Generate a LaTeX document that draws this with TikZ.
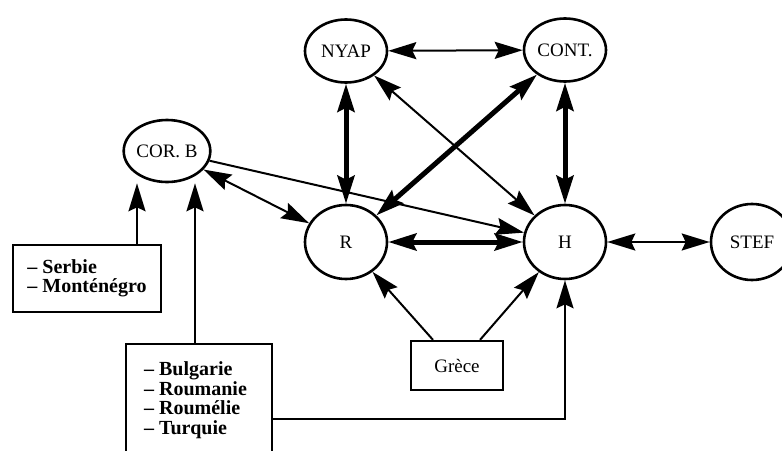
\documentclass[tikz,border=0pt]{standalone}
\usepackage{fontspec}
\setmainfont{Liberation Serif}
\usepackage{tikz}
\usetikzlibrary{positioning,arrows.meta,shapes.geometric}

\begin{document}
\begin{tikzpicture}[x=0.5pt, y=-0.5pt,
  every node/.style={font=\fontsize{9.5}{11}\selectfont},
  >={Stealth[length=14pt,width=8.5pt,inset=2pt]},
  etat/.style={ellipse, draw, line width=1.3pt, inner sep=0pt,
    minimum width=41pt, minimum height=37pt},
  boite/.style={rectangle, draw, line width=1.1pt, align=left,
    font=\fontsize{10}{9.7}\selectfont\bfseries},
  fin/.style={line width=1pt},
  gras/.style={line width=2.5pt}]
  \useasboundingbox (0,0) rectangle (782,450);

  %----- acteurs (ellipses) -----
  \node[etat, minimum height=31.5pt] (nyap) at (346,51) {NYAP};
  \node[etat, minimum height=31.5pt] (cont) at (565,50) {CONT.};
  \node[etat, minimum width=40pt, minimum height=31pt] (corb) at (167,151) {COR. B};
  \node[etat] (r) at (346,242) {R};
  \node[etat] (h) at (565,242) {H};
  \node[etat, minimum height=38pt] (stef) at (752,242) {STEF};

  %----- encadres -----
  \node[boite, minimum width=74pt, minimum height=33.5pt] (serb) at (87,278.5)
    {\textendash{} Serbie\\\textendash{} Monténégro};
  \node[boite, anchor=north west, inner xsep=9pt, inner ysep=0pt] (bulg) at (125,343)
    {\parbox[c][75pt][t]{55pt}{\vspace*{9pt}\textendash{} Bulgarie\\\textendash{} Roumanie\\
      \textendash{} Roumélie\\\textendash{} Turquie}};
  \node[boite, font=\fontsize{9.5}{11}\selectfont, minimum width=46pt,
    minimum height=24.5pt] (grece) at (457,365.5) {Grèce};

  % points de depart / arrivee decales
  \coordinate (corbG) at ([xshift=-15pt]corb.south);
  \coordinate (corbD) at ([xshift=14pt]corb.south);
  \coordinate (greceG) at ([xshift=-12pt]grece.north);
  \coordinate (greceD) at ([xshift=11.5pt]grece.north);

  %----- liens forts -----
  \draw[gras,<->] (nyap) -- (r);
  \draw[gras,<->] (cont) -- (h);
  \draw[gras,<->] (r) -- (h);
  \draw[gras,<->] (cont) -- (r);

  %----- liens simples -----
  \draw[fin,<->] (nyap) -- (cont);
  \draw[fin,<->] (nyap) -- (h);
  \draw[fin,<->] (corb) -- (r);
  \draw[fin,->] (corb) -- (h);
  \draw[fin,<->] (h) -- (stef);
  \draw[fin,->] (serb.north -| corbG) -- (corbG);
  \draw[fin,->] (bulg.north -| corbD) -- (corbD);
  \draw[fin,->] (bulg.east) -| (h);
  \draw[fin,->] (greceG) -- (r);
  \draw[fin,->] (greceD) -- (h);
\end{tikzpicture}
\end{document}
